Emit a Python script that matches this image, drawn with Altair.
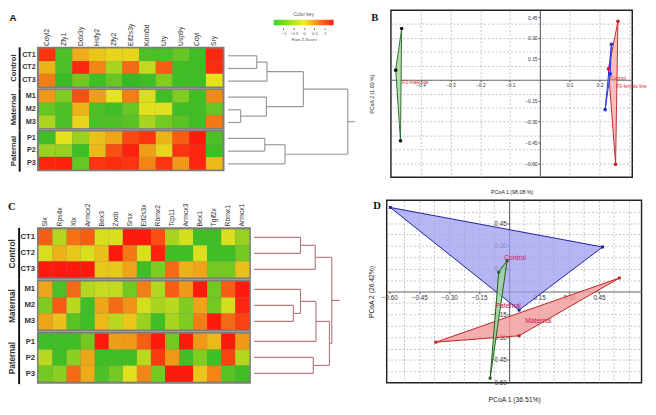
import altair as alt
import pandas as pd

FONT = "Liberation Sans"
SERIF = "Liberation Serif"

# ---------------- Panel A: Y-linked genes heatmap ----------------
A_GENES = ["Cdyl2", "Zfy1", "Ddx3y", "Hsfy2", "Zfy2", "Eif2s3y", "Kdm5d", "Uty", "Usp9y", "Cdyl", "Sry"]
GROUP_NAMES = ["Control", "Maternal", "Paternal"]
GROUP_ROWS = [["CT1", "CT2", "CT3"], ["M1", "M2", "M3"], ["P1", "P2", "P3"]]
A_Z = [
    [1.3, -1.2, 0.4, 0.2, 0.1, 0.1, -1.2, -1.2, -1.0, -1.3, 1.4],
    [0.35, -1.2, 1.4, 0.7, -0.5, 0.9, -0.3, 1.0, -1.3, -1.3, 1.35],
    [0.75, -1.35, -0.9, -1.3, -1.0, -1.4, -1.3, -0.8, -1.3, -1.3, 0.0],
    [0.55, -0.8, 1.1, 0.5, 0.0, 0.75, -0.1, -1.3, -0.8, -1.3, 0.65],
    [-1.0, -1.2, 0.35, -1.2, -1.3, -1.0, -0.05, -0.05, -1.3, -1.3, -1.0],
    [-0.45, -1.2, 0.1, -1.2, -1.2, -1.1, -0.5, -0.9, -1.1, -1.3, 0.8],
    [-1.3, 0.0, -0.6, 0.25, 0.45, 1.15, 1.3, 0.35, 1.0, 1.5, -1.2],
    [-0.6, -0.6, -1.3, 0.3, 1.1, 1.45, 0.5, 0.1, 1.3, 1.4, -1.3],
    [1.4, 1.45, -1.0, 1.3, 1.35, 1.3, 0.7, 1.3, 0.55, 1.4, 0.3],
]
# dendrogram merges (left, right, height); node i is named "n{i}"
A_MERGES = [
    ("CT1", "CT2", 2.97), ("n0", "CT3", 4.03),
    ("M2", "M3", 1.30), ("M1", "n2", 3.97),
    ("n1", "n3", 7.80),
    ("P1", "P2", 3.80), ("n5", "P3", 5.90),
    ("n4", "n6", 12.40),
]
A_ROOT_STUB = 13.13

# ---------------- Panel C: X-linked genes heatmap ----------------
C_GENES = ["Slx", "Rps4x", "Xlx", "Armcx2", "Bex3", "Zxdb", "Srsx", "Eif2s3x", "Rbmx2", "Tcp11",
           "Armcx3", "Bex1", "Tgif2x", "Rbmx1", "Armcx1"]
C_Z = [
    [1.0, -0.4, 0.85, 1.0, -0.1, -0.1, 1.5, 1.5, 1.1, -0.5, -0.15, -1.3, -1.3, -0.1, -0.6],
    [-0.1, 0.35, 0.2, -0.1, 0.25, 1.5, 0.8, -0.1, 1.45, -1.3, -1.3, -0.1, -1.3, -1.3, -0.9],
    [1.5, 1.5, 1.5, 1.5, 0.2, 0.2, 0.45, -1.3, -0.8, 0.9, 0.35, 0.45, -0.9, -0.9, 0.25],
    [0.45, -1.2, 0.9, -0.4, -0.25, -0.3, -0.9, 0.75, -0.4, 1.0, 0.55, 1.5, -0.9, 1.0, 1.5],
    [-0.8, 1.0, -0.35, -1.3, 0.45, 0.9, 0.6, -0.15, -0.5, -0.35, -0.8, 0.45, -0.9, -0.15, 1.4],
    [0.45, 0.25, -1.1, -1.3, 0.3, -0.35, 0.2, -0.6, -1.3, -0.5, -0.8, 0.75, 1.5, 0.9, 1.2],
    [-1.3, -1.3, -1.3, -0.9, 1.5, 0.5, 0.55, 1.0, 1.5, -0.9, 1.5, 0.55, 0.3, 1.5, 0.55],
    [-0.35, -1.3, -0.7, 0.45, -1.3, -1.3, -1.3, -0.35, 1.25, 0.55, -1.3, -0.8, -1.3, 1.2, -0.4],
    [-0.9, -0.7, 0.9, 0.4, -1.2, -0.9, -0.05, 0.7, -0.9, 1.5, 1.5, 0.2, 0.7, -1.1, -1.3],
]
C_MERGES = [
    ("CT1", "CT2", 4.80), ("n0", "CT3", 6.33),
    ("M2", "M3", 4.06), ("M1", "n2", 4.80),
    ("n3", "P1", 6.40),
    ("P2", "P3", 6.13), ("n4", "n5", 7.80),
    ("n1", "n6", 8.04),
]
C_ROOT_STUB = 8.84

# colour scale / key
Z_DOMAIN = [-1.5, 0, 1.5]
Z_COLORS = ["#26b826", "#e6e21c", "#ff1a0e"]
KEY_RANGE = [-1.47, 1.43]
KEY_TICKS = [-1, -0.5, 0, 0.5, 1]
KEY_COLORS = ["#2ed91f", "#f2ee1e", "#ff1c1c"]

# ---------------- Panel B: PCoA ----------------
B_GROUPS = ["F3-male line", "Control", "F3-female line"]
B_X = [[-0.464, -0.484, -0.468], [0.240, 0.236, 0.219], [0.262, 0.230, 0.254]]
B_Y = [[0.368, 0.069, -0.439], [0.255, 0.042, -0.215], [0.420, 0.078, -0.608]]
B_LABEL_X = [-0.462, 0.236, 0.256]
B_LABEL_Y = [-0.014, 0.011, -0.046]
B_XTICKS = [-0.4, -0.3, -0.2, -0.1, 0.1, 0.2]
B_YTICKS = [0.45, 0.30, 0.15, -0.15, -0.30, -0.45, -0.60]
B_XGRID = [-0.4, -0.3, -0.2, -0.1, 0.1, 0.2, 0.3]
B_YGRID = [0.4, 0.3, 0.2, 0.1, -0.1, -0.2, -0.3, -0.4, -0.5, -0.6]

# ---------------- Panel D: PCoA ----------------
D_GROUPS = ["Control", "Maternal", "Paternal"]
D_X = [[-0.595, 0.468, 0.050], [0.552, -0.367, 0.050], [-0.010, -0.052, -0.095]]
D_Y = [[0.553, 0.293, -0.122], [0.089, -0.333, -0.291], [0.204, 0.127, -0.570]]
D_LABEL_X = [0.03, 0.146, -0.005]
D_LABEL_Y = [0.22, -0.196, -0.095]
D_XTICKS = [-0.60, -0.45, -0.30, -0.15, 0.15, 0.30, 0.45]
D_YTICKS = [0.45, 0.30, 0.15, -0.15, -0.30, -0.45, -0.60]
D_XGRID = [-0.525, -0.45, -0.375, -0.3, -0.225, -0.15, -0.075, 0.075, 0.15, 0.225, 0.3,
           0.375, 0.45, 0.525, 0.6]
D_YGRID = [0.525, 0.45, 0.375, 0.3, 0.225, 0.15, 0.075, -0.075, -0.15, -0.225, -0.3,
           -0.375, -0.45, -0.525]

# ---------------- layout sizes (px) ----------------
A_W, A_GH, A_PADX, A_PADY = 194.3, 42.8, 0.116, 0.125
A_DW = 131.3
A_TOP = 37.5
CK_X, CK_TOP, CK_W, CK_H = 47.3, 9.7, 62, 5.6
B_W, B_H = 250, 173
TOP_SP = 12.7
D_W, D_H = 264, 189
C_SP = 27.3
C_W, C_PADX, C_PADY = 221.6, 0.11, 0.125
C_GH = (D_H - C_SP) / 3
C_DW = 88.4
BOTTOM_SP = 27.3
ROOT_SP = 4


def spacer(w, h):
    return alt.Chart(pd.DataFrame({"s": [0]})).mark_point(opacity=0).properties(width=w, height=h)


def heat_group(genes, rows, zrows, gname, W, H, padx, pady, first, row_fs, title_fs,
               bar_off, label_pad, letter=None):
    recs = [{"sample": r, "gene": g, "z": zrows[i][j]}
            for i, r in enumerate(rows) for j, g in enumerate(genes)]
    df = pd.DataFrame(recs)
    x_axis = alt.Axis(orient="top", labelAngle=-90, labelFontSize=7, labelColor="#333",
                      labelPadding=1.5, ticks=False, domain=False, title=None,
                      labelOverlap=False) if first else None
    heat = alt.Chart(df).mark_rect().encode(
        x=alt.X("gene:N", sort=genes, scale=alt.Scale(paddingInner=0, paddingOuter=padx), axis=x_axis),
        y=alt.Y("sample:N", sort=rows, scale=alt.Scale(paddingInner=0, paddingOuter=pady),
                axis=alt.Axis(orient="left", title=None, domain=False, ticks=False,
                              labelFontSize=row_fs, labelFontWeight="bold", labelColor="#333",
                              labelPadding=label_pad)),
        color=alt.Color("z:Q", scale=alt.Scale(domain=Z_DOMAIN, range=Z_COLORS,
                                               interpolate="rgb", clamp=True), legend=None),
    )
    bar = alt.Chart(df).mark_rect(opacity=0).encode(
        x=alt.X("gene:N", sort=genes, axis=None),
        y=alt.Y("sample:N", sort=rows,
                axis=alt.Axis(orient="left", title=gname, labels=False, ticks=False, grid=False,
                              domain=True, domainColor="#111", domainWidth=2, offset=bar_off,
                              titleFontSize=title_fs, titleFontWeight="bold", titleColor="#333",
                              titlePadding=2)),
    )
    ch = alt.layer(heat, bar).resolve_axis(x="independent", y="independent").properties(
        width=W, height=H, view=alt.ViewBackground(fill="#7d7d7d", strokeWidth=0))
    if letter is not None:
        ch = ch.properties(title=letter)
    return ch


def dendrogram(merges, stub, pad, W, H, color):
    unit = 3 + 2 * pad
    pos = {}
    for g, rows in enumerate(GROUP_ROWS):
        for r, name in enumerate(rows):
            pos[name] = (g * unit + pad + r + 0.5, 0.0)
    segs = []
    for i, (a, b, h) in enumerate(merges):
        ya, ha = pos[a]
        yb, hb = pos[b]
        segs.append((ha, h, ya, ya))
        segs.append((hb, h, yb, yb))
        segs.append((h, h, ya, yb))
        pos[f"n{i}"] = ((ya + yb) / 2, h)
    yr, hr = pos[f"n{len(merges) - 1}"]
    segs.append((hr, stub, yr, yr))
    df = pd.DataFrame(segs, columns=["x", "x2", "y", "y2"])
    return alt.Chart(df).mark_rule(color=color, strokeWidth=1.2).encode(
        x=alt.X("x:Q", scale=alt.Scale(domain=[0, stub], nice=False, zero=False), axis=None),
        x2="x2:Q",
        y=alt.Y("y:Q", scale=alt.Scale(domain=[0, 3 * unit], reverse=True, nice=False, zero=False),
                axis=None),
        y2="y2:Q",
    ).properties(width=W, height=H)


def color_key(W):
    # the key occupies [CK_X, CK_X + CK_W] of a W-wide strip
    k = CK_W / (KEY_RANGE[1] - KEY_RANGE[0])
    dom = [KEY_RANGE[0] - CK_X / k, KEY_RANGE[1] + (W - CK_X - CK_W) / k]
    df = pd.DataFrame({"lo": [KEY_RANGE[0]], "hi": [KEY_RANGE[1]]})
    grad = alt.LinearGradient(
        gradient="linear", x1=0, x2=1, y1=0, y2=0,
        stops=[alt.GradientStop(offset=0, color=KEY_COLORS[0]),
               alt.GradientStop(offset=0.5, color=KEY_COLORS[1]),
               alt.GradientStop(offset=1, color=KEY_COLORS[2])])
    cx = CK_X + CK_W / 2
    return alt.Chart(df).mark_rect(color=grad).encode(
        x=alt.X("lo:Q", scale=alt.Scale(domain=dom, nice=False, zero=False),
                axis=alt.Axis(values=KEY_TICKS, format="~g", labelFontSize=4.5, labelColor="#555",
                              tickSize=2, tickColor="#777", domain=False, grid=False, offset=2.4,
                              labelPadding=1, labelFlush=False, labelOverlap=False,
                              title="Row Z-Score", titleFontSize=4.5, titleFontWeight="normal",
                              titleColor="#555", titlePadding=2, titleX=cx)),
        x2="hi:Q",
    ).properties(width=W, height=CK_H,
                 title=alt.TitleParams("Color key", fontSize=5, fontWeight="normal",
                                       color="#555", offset=3, font=FONT, dx=cx - W / 2))


def pcoa(groups, xs, ys, styles, lab_x, lab_y, lab_color, lab_fs, lab_align,
         xdom, ydom, W, H, xgrid, ygrid, xticks, yticks, xfmt, yfmt, tick_fs,
         xtitle, ytitle, title_fs, xtp, ytp, letter, letter_off, letter_dx,
         pt_shape, pt_size):
    sx = alt.Scale(domain=xdom, nice=False, zero=False)
    sy = alt.Scale(domain=ydom, nice=False, zero=False)
    x0 = W * (0 - xdom[0]) / (xdom[1] - xdom[0])
    y0 = H * (ydom[1] - 0) / (ydom[1] - ydom[0])
    grid_x = alt.Axis(orient="bottom", values=xgrid, grid=True, gridColor="#9a9a9a",
                      gridDash=[2, 2], gridWidth=0.6, labels=False, ticks=False, domain=False,
                      title=xtitle, titleFontSize=title_fs, titleFontWeight="normal",
                      titleColor="#222", titlePadding=xtp)
    grid_y = alt.Axis(orient="left", values=ygrid, grid=True, gridColor="#9a9a9a",
                      gridDash=[2, 2], gridWidth=0.6, labels=False, ticks=False, domain=False,
                      title=ytitle, titleFontSize=title_fs, titleFontWeight="normal",
                      titleColor="#222", titlePadding=ytp)
    lab_xa = alt.Axis(orient="bottom", values=xticks, format=xfmt, offset=-(H - y0), grid=False,
                      domain=True, domainColor="#666", domainWidth=1.2, tickSize=2,
                      tickColor="#555", labelFontSize=tick_fs, labelColor="#333", labelPadding=1,
                      labelFlush=False, labelOverlap=False, title=None)
    lab_ya = alt.Axis(orient="left", values=yticks, format=yfmt, offset=-x0, grid=False,
                      domain=True, domainColor="#666", domainWidth=1.2, tickSize=2,
                      tickColor="#555", labelFontSize=tick_fs, labelColor="#333", labelPadding=1,
                      labelOverlap=False, title=None)
    layers = []
    frames = []
    for gi, g in enumerate(groups):
        frames.append(pd.DataFrame({"group": g, "k": list(range(len(xs[gi]))),
                                    "x": xs[gi], "y": ys[gi]}))
    for n, gi in enumerate(styles["order"]):
        st = styles["groups"][gi]
        layers.append(alt.Chart(frames[gi]).mark_line(
            interpolate="linear-closed", fill=st["fill"], fillOpacity=st["fo"],
            stroke=st["stroke"], strokeWidth=1).encode(
            x=alt.X("x:Q", scale=sx, axis=grid_x if n == 0 else None),
            y=alt.Y("y:Q", scale=sy, axis=grid_y if n == 0 else None),
            order=alt.Order("k:Q")))
    for n, gi in enumerate(styles["order"]):
        st = styles["groups"][gi]
        layers.append(alt.Chart(frames[gi]).mark_point(
            filled=True, shape=pt_shape, size=pt_size, color=st["point"], opacity=1).encode(
            x=alt.X("x:Q", scale=sx, axis=lab_xa if n == 0 else None),
            y=alt.Y("y:Q", scale=sy, axis=lab_ya if n == 0 else None)))
    labs = pd.DataFrame({"text": groups, "x": lab_x, "y": lab_y})
    layers.append(alt.Chart(labs).mark_text(
        align=lab_align, baseline="middle", fontSize=lab_fs, color=lab_color, font=FONT).encode(
        x=alt.X("x:Q", scale=sx, axis=None), y=alt.Y("y:Q", scale=sy, axis=None), text="text:N"))
    return alt.layer(*layers).resolve_axis(x="independent", y="independent").properties(
        width=W, height=H,
        view=alt.ViewBackground(fill="white", stroke="#222", strokeWidth=1.5),
        title=alt.TitleParams(letter, anchor="start", font=SERIF, fontSize=11, fontWeight="bold",
                              color="#111", offset=letter_off, dx=letter_dx))


# ---------------- build pieces ----------------
a_groups = []
for gi, gname in enumerate(GROUP_NAMES):
    letter = alt.TitleParams("A", anchor="start", font=FONT, fontSize=10, fontWeight="bold",
                             color="#111", offset=0, dx=0) if gi == 0 else None
    a_groups.append(heat_group(A_GENES, GROUP_ROWS[gi], A_Z[gi * 3:gi * 3 + 3], gname,
                               A_W, A_GH, A_PADX, A_PADY, gi == 0, 7.5, 8, 18.4, 1.7, letter))
c_groups = []
for gi, gname in enumerate(GROUP_NAMES):
    letter = alt.TitleParams("C", anchor="start", font=SERIF, fontSize=11, fontWeight="bold",
                             color="#111", offset=-9, dx=0) if gi == 0 else None
    c_groups.append(heat_group(C_GENES, GROUP_ROWS[gi], C_Z[gi * 3:gi * 3 + 3], gname,
                               C_W, C_GH, C_PADX, C_PADY, gi == 0, 8, 8.5, 19, 2.4, letter))

dend_a = dendrogram(A_MERGES, A_ROOT_STUB, A_PADY, A_DW, 3 * A_GH, "#999999")
dend_c = dendrogram(C_MERGES, C_ROOT_STUB, C_PADY, C_DW, 3 * C_GH, "#b27b7e")

B_STYLES = {
    "order": [0, 2, 1],
    "groups": [
        {"fill": "#a9d6a2", "fo": 0.85, "stroke": "#2f6f2f", "point": "#111111"},
        {"fill": "#b8b8f5", "fo": 0.5, "stroke": "#2233dd", "point": "#1f2fe0"},
        {"fill": "#f3a9ad", "fo": 0.75, "stroke": "#c42a2a", "point": "#cc1f1f"},
    ],
}
B_chart = pcoa(B_GROUPS, B_X, B_Y, B_STYLES, B_LABEL_X, B_LABEL_Y, "#d42a2a", 5, "left",
               [-0.5, 0.31], [-0.70, 0.50], B_W, B_H, B_XGRID, B_YGRID, B_XTICKS, B_YTICKS,
               ".1f", ".2f", 5, "PCoA 1 (98.08 %)", "PCoA 2 (1.03 %)", 5.5, 12.5, 17.5,
               "B", -13, 2, "circle", 14)

D_STYLES = {
    "order": [0, 1, 2],
    "groups": [
        {"fill": "#9d9df0", "fo": 0.75, "stroke": "#1c1c9c", "point": "#1c1c9c"},
        {"fill": "#f39a9a", "fo": 0.8, "stroke": "#c01e1e", "point": "#c01e1e"},
        {"fill": "#9fd39a", "fo": 0.85, "stroke": "#1c5e1c", "point": "#1c5e1c"},
    ],
}
D_chart = pcoa(D_GROUPS, D_X, D_Y, D_STYLES, D_LABEL_X, D_LABEL_Y, "#d01050", 7, "center",
               [-0.613, 0.663], [-0.60, 0.60], D_W, D_H, D_XGRID, D_YGRID, D_XTICKS, D_YTICKS,
               ".2f", ".2f", 6.5, "PCoA 1 (36.51%)", "PCoA 2 (26.42%)", 7, 13.5, 13,
               "D", -11, 6, "square", 9)

# ---------------- layout ----------------
A_left = alt.vconcat(spacer(1, A_TOP), *a_groups, spacing=0, bounds="flush")
A_right = alt.vconcat(spacer(1, CK_TOP), color_key(A_DW), spacer(1, A_TOP - CK_TOP - CK_H),
                      dend_a, spacing=0, bounds="flush")
A_block = alt.hconcat(A_left, A_right, spacing=0)
TOP = alt.hconcat(A_block, B_chart, spacing=TOP_SP)

C_left = alt.vconcat(spacer(1, C_SP), *c_groups, spacing=0, bounds="flush")
C_right = alt.vconcat(spacer(1, C_SP), dend_c, spacing=0, bounds="flush")
C_block = alt.hconcat(C_left, C_right, spacing=0)
BOTTOM = alt.hconcat(C_block, D_chart, spacing=BOTTOM_SP)

chart = alt.vconcat(TOP, BOTTOM, spacing=ROOT_SP,
                    padding={"top": -6, "left": 0, "right": 0, "bottom": 0},
                    background="white").configure(font=FONT).configure_view(strokeWidth=0)

chart.save("out.html", embed_options={"renderer": "svg", "actions": False})
